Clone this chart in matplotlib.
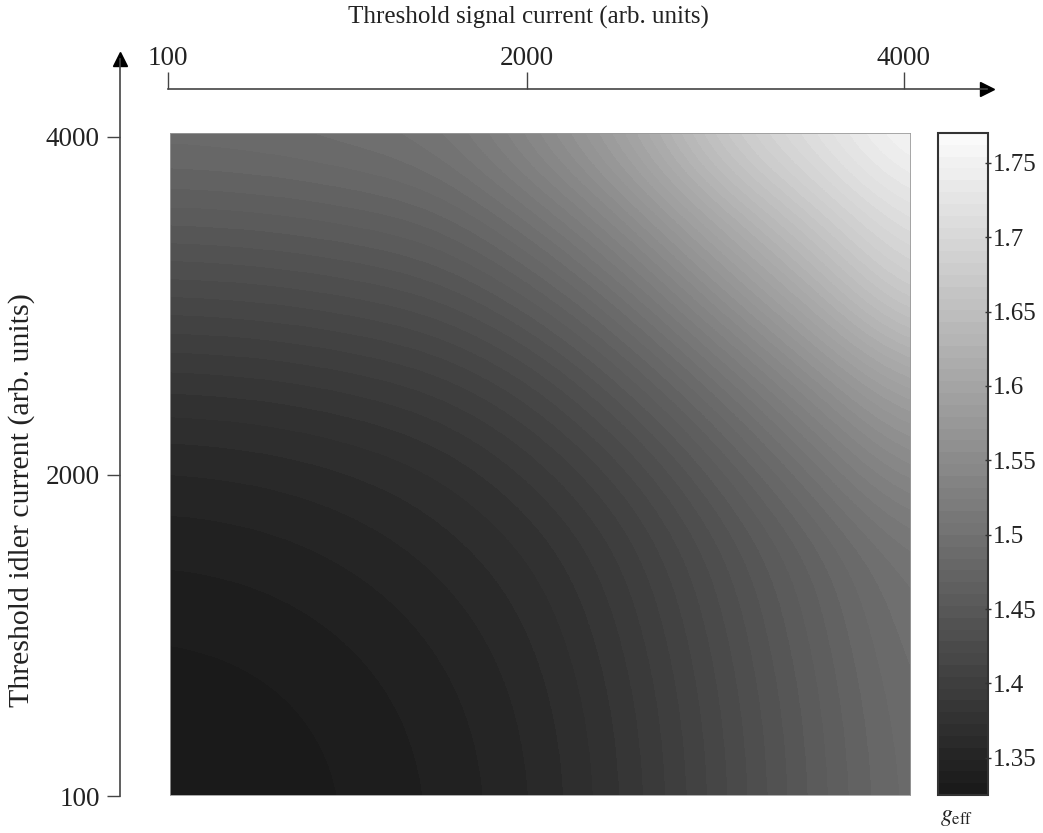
import matplotlib

matplotlib.use("Agg")
import matplotlib.pyplot as plt
import numpy as np
from matplotlib.colors import BoundaryNorm, LinearSegmentedColormap
from matplotlib.ticker import FormatStrFormatter

SIGNAL = [100, 587.5, 1075, 1562.5, 2050, 2537.5, 3025, 3512.5, 4000]
IDLER = [100, 587.5, 1075, 1562.5, 2050, 2537.5, 3025, 3512.5, 4000]

# g_eff, one row per idler value (bottom to top), columns follow SIGNAL
G_EFF = [
    [1.3250, 1.3275, 1.3334, 1.3427, 1.3570, 1.3830, 1.4190, 1.4560, 1.4920],
    [1.3275, 1.3300, 1.3359, 1.3452, 1.3595, 1.3855, 1.4215, 1.4585, 1.4945],
    [1.3334, 1.3359, 1.3418, 1.3511, 1.3654, 1.3914, 1.4274, 1.4644, 1.5004],
    [1.3427, 1.3452, 1.3511, 1.3604, 1.3747, 1.4007, 1.4367, 1.4737, 1.5097],
    [1.3570, 1.3595, 1.3654, 1.3747, 1.3930, 1.4210, 1.4610, 1.5060, 1.5540],
    [1.3830, 1.3855, 1.3914, 1.4007, 1.4210, 1.4560, 1.5020, 1.5540, 1.6050],
    [1.4190, 1.4215, 1.4274, 1.4367, 1.4610, 1.5020, 1.5580, 1.6150, 1.6810],
    [1.4560, 1.4585, 1.4644, 1.4737, 1.5060, 1.5540, 1.6150, 1.6720, 1.7230],
    [1.4920, 1.4945, 1.5004, 1.5097, 1.5540, 1.6050, 1.6810, 1.7230, 1.7700],
]

AXIS_TICKS = [100, 2000, 4000]
CBAR_TICKS = [1.35, 1.4, 1.45, 1.5, 1.55, 1.6, 1.65, 1.7, 1.75]
G_MIN, G_MAX = 1.325, 1.77

W, H = 1043, 833


def px_rect(left, top, right, bottom):
    return [left / W, 1 - bottom / H, (right - left) / W, (bottom - top) / H]


plt.rcParams.update(
    {
        "font.family": "Liberation Serif",
        "mathtext.fontset": "stix",
    }
)

fig = plt.figure(figsize=(W / 100, H / 100), dpi=100)

g = np.array(G_EFF, dtype=float)
dx = SIGNAL[1] - SIGNAL[0]
dy = IDLER[1] - IDLER[0]
levels = np.linspace(G_MIN, G_MAX, 57)
cmap = LinearSegmentedColormap.from_list("geff", ["#1a1a1a", "#fafafa"])
norm = BoundaryNorm(levels, cmap.N)

ax = fig.add_axes(px_rect(170, 133, 910, 795))
im = ax.imshow(
    g,
    origin="lower",
    extent=[SIGNAL[0] - dx / 2, SIGNAL[-1] + dx / 2, IDLER[0] - dy / 2, IDLER[-1] + dy / 2],
    cmap=cmap,
    norm=norm,
    interpolation="bicubic",
    interpolation_stage="data",
    aspect="auto",
)
ax.set_xlim(SIGNAL[0], SIGNAL[-1])
ax.set_ylim(IDLER[0], IDLER[-1])
ax.set_xticks([])
ax.set_yticks([])
for sp in ax.spines.values():
    sp.set_color("#9a9a9a")
    sp.set_linewidth(0.6)

line_color = "#444444"

# top (signal) axis with arrow
axt = fig.add_axes(px_rect(168, 89, 987, 90))
axt.patch.set_visible(False)
for name in ("bottom", "left", "right"):
    axt.spines[name].set_visible(False)
axt.spines["top"].set_color(line_color)
axt.spines["top"].set_linewidth(1.2)
axt.set_xlim(100, 4440)
axt.set_yticks([])
axt.xaxis.tick_top()
axt.set_xticks(AXIS_TICKS, [str(t) for t in AXIS_TICKS])
axt.tick_params(axis="x", direction="out", length=12, width=1.0, color=line_color,
                labelsize=19.5, pad=1, labelcolor="#222222")
axt.plot([1], [1], marker=">", ms=10, color="black", transform=axt.transAxes, clip_on=False)

# left (idler) axis with arrow
axl = fig.add_axes(px_rect(120, 59, 121, 796))
axl.patch.set_visible(False)
for name in ("bottom", "top", "right"):
    axl.spines[name].set_visible(False)
axl.spines["left"].set_color(line_color)
axl.spines["left"].set_linewidth(1.2)
axl.set_ylim(100, 4460)
axl.set_xticks([])
axl.set_yticks(AXIS_TICKS, [str(t) for t in AXIS_TICKS])
axl.tick_params(axis="y", direction="out", length=9.5, width=1.0, color=line_color,
                labelsize=19.5, pad=5, labelcolor="#222222")
axl.plot([0], [1], marker="^", ms=10, color="black", transform=axl.transAxes, clip_on=False)

fig.text(528 / W, 1 - 17 / H, "Threshold signal current (arb. units)",
         ha="center", va="center", fontsize=18, color="#222222")
fig.text(22 / W, 1 - 500 / H, "Threshold idler current (arb. units)",
         ha="center", va="center", rotation=90, fontsize=21.5, color="#222222")

# colour bar
cax = fig.add_axes(px_rect(938, 133, 988, 795))
cb = fig.colorbar(im, cax=cax, ticks=CBAR_TICKS)
cb.outline.set_linewidth(1.5)
cb.outline.set_edgecolor("#333333")
cax.yaxis.set_major_formatter(FormatStrFormatter("%g"))
cax.tick_params(direction="inout", length=5, width=1.0, color="#333333",
                labelsize=18, pad=1, labelcolor="#222222")
cax.minorticks_off()
fig.text(957 / W, 1 - 817 / H, r"$g_{\mathrm{eff}}$", ha="center", va="center",
         fontsize=17, color="#222222")

fig.savefig("out.png", dpi=100)
